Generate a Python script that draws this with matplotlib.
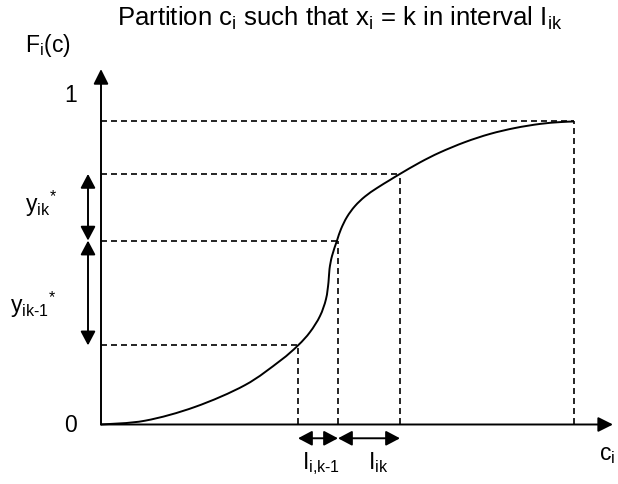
import numpy as np
import matplotlib.pyplot as plt
from matplotlib.path import Path
from matplotlib.patches import PathPatch

plt.rcParams['font.family'] = ['Liberation Sans', 'DejaVu Sans']
plt.rcParams['mathtext.fontset'] = 'custom'
plt.rcParams['mathtext.rm'] = 'Liberation Sans'
plt.rcParams['mathtext.it'] = 'Liberation Sans'
plt.rcParams['lines.scale_dashes'] = False

# curva F_i(c)
c_curva = [0.0, 0.44, 0.94, 1.44, 1.79, 1.97, 2.09, 2.19, 2.25, 2.275, 2.285,
           2.31, 2.36, 2.40, 2.46, 2.54, 2.64, 2.76, 2.89, 2.99, 3.19, 3.39,
           3.64, 3.89, 4.14, 4.39, 4.59, 4.73]
F_curva = [0.0, 0.0125, 0.058, 0.130, 0.210, 0.261, 0.305, 0.358, 0.414, 0.470,
           0.513, 0.556, 0.607, 0.645, 0.685, 0.721, 0.7525, 0.7805, 0.807,
           0.827, 0.865, 0.898, 0.932, 0.959, 0.9785, 0.992, 0.998, 1.0]

# niveles de la particion
c_niveles = [1.97, 2.37, 2.99, 4.73]
F_niveles = [0.261, 0.607, 0.827, 1.0]


def camino_suave(xs, ys):
    # curva de Bezier (Catmull-Rom) que pasa por los puntos
    p = np.column_stack([xs, ys])
    verts = [p[0]]
    codes = [Path.MOVETO]
    for i in range(len(p) - 1):
        p0 = p[i - 1] if i > 0 else p[i]
        p3 = p[i + 2] if i + 2 < len(p) else p[i + 1]
        c1 = p[i] + (p[i + 1] - p0) / 6
        c2 = p[i + 1] - (p3 - p[i]) / 6
        verts += [c1, c2, p[i + 1]]
        codes += [Path.CURVE4] * 3
    return Path(verts, codes)


fig = plt.figure(figsize=(6.18, 4.85), dpi=100)
ax = fig.add_axes([0, 0, 1, 1])
ax.set_xlim(-1.01, 5.17)
ax.set_ylim(-0.1964, 1.4043)
ax.axis('off')

ax.add_patch(PathPatch(camino_suave(c_curva, F_curva), facecolor='none',
                       edgecolor='black', lw=1.4))

dash = (4.3, 2.9)
for c, F in zip(c_niveles, F_niveles):
    ax.plot([0, c], [F, F], color='black', lw=1.2, linestyle=(0, dash))
    ax.plot([c, c], [0, F], color='black', lw=1.2, linestyle=(0, dash))

# ejes con flecha
flecha = dict(arrowstyle='-|>,head_length=0.9,head_width=0.45', color='black',
              lw=1.4, shrinkA=0, shrinkB=0, mutation_scale=10)
ax.annotate('', xy=(5.12, 0), xytext=(0, 0), arrowprops=flecha)
ax.annotate('', xy=(0, 1.173), xytext=(0, 0), arrowprops=flecha)

doble = dict(arrowstyle='<|-|>,head_length=0.85,head_width=0.45', color='black',
             lw=1.4, shrinkA=0, shrinkB=0, mutation_scale=10)
# flechas de la izquierda (y*)
ax.annotate('', xy=(-0.13, F_niveles[2]), xytext=(-0.13, F_niveles[1]), arrowprops=doble)
ax.annotate('', xy=(-0.13, F_niveles[1]), xytext=(-0.13, F_niveles[0]), arrowprops=doble)
# flechas de abajo (intervalos)
ax.annotate('', xy=(c_niveles[0], -0.0455), xytext=(c_niveles[1], -0.0455), arrowprops=doble)
ax.annotate('', xy=(c_niveles[1], -0.0455), xytext=(c_niveles[2], -0.0455), arrowprops=doble)

fs = 16.5
ax.text(2.39, 1.318, r'Partition c$_\mathrm{i}$ such that x$_\mathrm{i}$ = k in interval I$_\mathrm{ik}$',
        ha='center', va='baseline', fontsize=18.5)
ax.text(-0.76, 1.232, r'F$_\mathrm{i}$(c)', ha='left', va='baseline', fontsize=fs)
ax.text(-0.24, 1.09, '1', ha='right', va='center', fontsize=fs)
ax.text(-0.24, 0.0, '0', ha='right', va='center', fontsize=fs)
ax.text(-0.76, 0.704, r'y$_\mathrm{ik}{}^{*}$', ha='left', va='baseline', fontsize=fs)
ax.text(-0.91, 0.371, r'y$_\mathrm{ik\text{-}1}{}^{*}$', ha='left', va='baseline', fontsize=fs)
ax.text(2.01, -0.1436, r'I$_\mathrm{i{,}k\text{-}1}$', ha='left', va='baseline', fontsize=fs)
ax.text(2.67, -0.1436, r'I$_\mathrm{ik}$', ha='left', va='baseline', fontsize=fs)
ax.text(4.98, -0.114, r'c$_\mathrm{i}$', ha='left', va='baseline', fontsize=fs)

fig.savefig('out.png', dpi=100)
